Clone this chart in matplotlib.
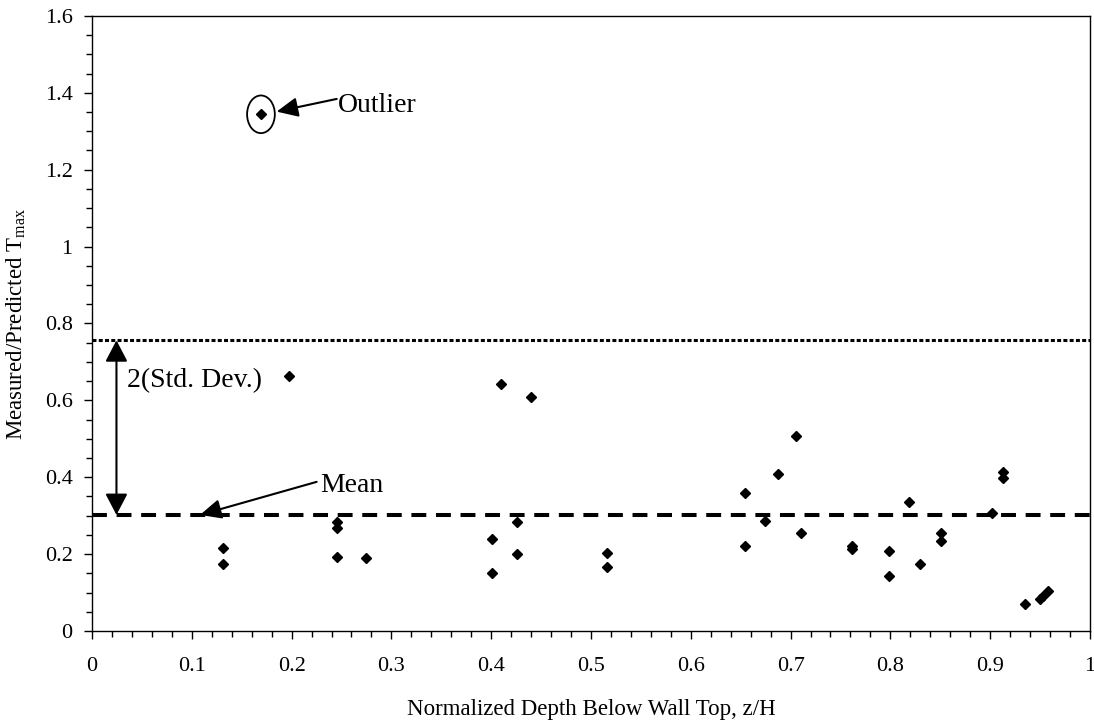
import matplotlib
matplotlib.use("Agg")
import matplotlib.pyplot as plt
from matplotlib.patches import Ellipse
from matplotlib.ticker import MultipleLocator

plt.rcParams['font.family'] = ['Liberation Serif', 'DejaVu Serif']
plt.rcParams['mathtext.fontset'] = 'custom'
plt.rcParams['mathtext.rm'] = 'Liberation Serif'

# measured points (z/H, measured/predicted Tmax)
depth = [0.1316, 0.1316, 0.245, 0.245, 0.245, 0.2745,
         0.4008, 0.4008, 0.4095, 0.4255, 0.4255, 0.440, 0.5157, 0.5157,
         0.6546, 0.6546, 0.6747, 0.6874, 0.7054, 0.7107, 0.7615, 0.7615,
         0.799, 0.799, 0.819, 0.830, 0.851, 0.851, 0.902, 0.9128, 0.9128,
         0.9345, 0.950, 0.953, 0.958]
ratio = [0.217, 0.174, 0.284, 0.267, 0.193, 0.189,
         0.240, 0.152, 0.643, 0.283, 0.200, 0.610, 0.204, 0.166,
         0.358, 0.222, 0.287, 0.408, 0.507, 0.255, 0.222, 0.214,
         0.208, 0.142, 0.335, 0.175, 0.255, 0.235, 0.307, 0.414, 0.397,
         0.070, 0.083, 0.092, 0.103]

# two smaller markers
depth_b = [0.1693, 0.197]
ratio_b = [1.344, 0.663]

mean_val = 0.302
upper_val = 0.756

x_ticks = [0, 0.1, 0.2, 0.3, 0.4, 0.5, 0.6, 0.7, 0.8, 0.9, 1]
x_labels = ['0', '0.1', '0.2', '0.3', '0.4', '0.5', '0.6', '0.7', '0.8', '0.9', '1']
y_ticks = [0, 0.2, 0.4, 0.6, 0.8, 1, 1.2, 1.4, 1.6]
y_labels = ['0', '0.2', '0.4', '0.6', '0.8', '1', '1.2', '1.4', '1.6']

fig = plt.figure(figsize=(10.94, 7.22), dpi=100)
ax = fig.add_axes([0.0841, 0.126, 0.9122, 0.852])

ax.plot(depth, ratio, 'D', color='black', markersize=5.4, zorder=5)
ax.plot(depth_b, ratio_b, 'D', color='black', markersize=4.6, zorder=5)

ax.plot([0, 1], [mean_val, mean_val], color='black', lw=2.9,
        dashes=(3.7, 2.4), dash_capstyle='butt')
ax.plot([0, 1], [upper_val, upper_val], color='black', lw=2.2,
        dashes=(1.3, 0.75), dash_capstyle='butt')

# outlier circle
ax.add_patch(Ellipse((0.1693, 1.344), 0.0278, 0.098, fill=False,
                     edgecolor='black', lw=1.3))

ax.annotate('', xy=(0.185, 1.351), xytext=(0.2452, 1.384),
            arrowprops=dict(arrowstyle='-|>,head_length=13,head_width=6',
                            mutation_scale=1, color='black', lw=1.5,
                            shrinkA=0, shrinkB=0))
ax.text(0.2465, 1.351, 'Outlier', fontsize=20, va='baseline', ha='left')

ax.annotate('', xy=(0.1082, mean_val), xytext=(0.2251, 0.388),
            arrowprops=dict(arrowstyle='-|>,head_length=13,head_width=6',
                            mutation_scale=1, color='black', lw=1.5,
                            shrinkA=0, shrinkB=0))
ax.text(0.2285, 0.3624, 'Mean', fontsize=20, va='baseline', ha='left')

ax.annotate('', xy=(0.0245, upper_val), xytext=(0.0245, mean_val),
            arrowprops=dict(arrowstyle='<|-|>,head_length=13,head_width=6.8',
                            mutation_scale=1, color='black', lw=1.5,
                            shrinkA=0, shrinkB=0))
ax.text(0.0347, 0.6356, '2(Std. Dev.)', fontsize=20, va='baseline', ha='left')

ax.set_xlim(0, 1)
ax.set_ylim(0, 1.6)
ax.set_xticks(x_ticks)
ax.set_xticklabels(x_labels, fontsize=16)
ax.set_yticks(y_ticks)
ax.set_yticklabels(y_labels, fontsize=16)
ax.xaxis.set_minor_locator(MultipleLocator(0.02))
ax.yaxis.set_minor_locator(MultipleLocator(0.05))
ax.tick_params(which='major', direction='out', length=6, width=1)
ax.tick_params(which='minor', direction='out', length=4, width=1)
ax.tick_params(axis='x', which='major', pad=13)
ax.tick_params(axis='y', which='major', pad=8)
ax.tick_params(top=False, right=False, which='both')
for s in ax.spines.values():
    s.set_linewidth(1)

ax.set_xlabel('Normalized Depth Below Wall Top, z/H', fontsize=16.5, labelpad=16)
ax.set_ylabel(r'Measured/Predicted T$_{\mathrm{max}}$', fontsize=16.5, labelpad=12)

fig.savefig('out.png', dpi=100)
